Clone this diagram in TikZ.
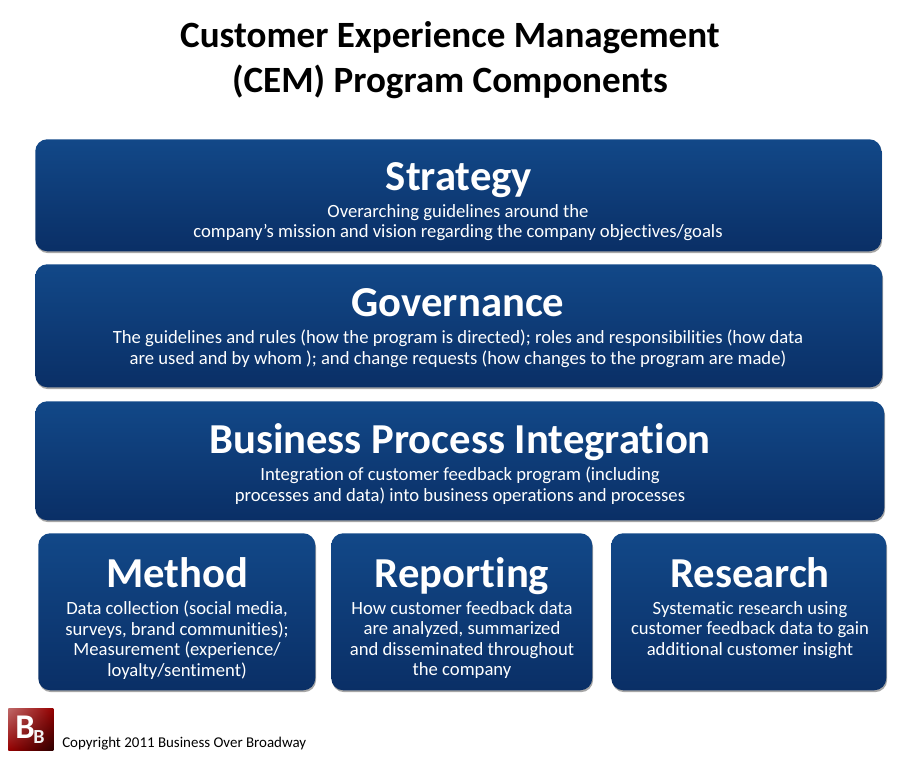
\documentclass[tikz,border=0pt]{standalone}
\usepackage{fontspec}
\setmainfont[Ligatures=NoCommon]{Carlito}
\usetikzlibrary{shadows,shadings}
\definecolor{boxtop}{RGB}{18,72,136}
\definecolor{boxbottom}{RGB}{10,47,102}
\definecolor{logopale}{RGB}{190,105,105}
\definecolor{logored}{RGB}{150,0,0}
\definecolor{logodark}{RGB}{45,0,0}
\tikzset{
  panel/.style={rounded corners=9pt,top color=boxtop,bottom color=boxbottom,draw=none,
    drop shadow={shadow xshift=0.6pt,shadow yshift=-1.4pt,opacity=.35,fill=black},
    minimum width=#1,inner sep=0pt,anchor=north west},
  heading/.style={text=white,font=\bfseries\fontsize{32}{34}\selectfont,inner sep=0pt,anchor=base},
  blurb/.style={text=white,font=\fontsize{14}{15.4}\selectfont,align=center,inner sep=0pt,anchor=north},
}
\begin{document}
\begin{tikzpicture}[x=0.75pt,y=-0.75pt]
\useasboundingbox (0,0) rectangle (916,756);
\node[text=black,font=\bfseries\fontsize{27.8}{34}\selectfont,align=center,inner sep=0pt] (title) at (450,60)
  {Customer Experience Management\\(CEM) Program Components};

% panels
\node[panel=634.5pt,minimum height=84pt] (strategy) at (35,139) {};
\node[panel=635.25pt,minimum height=92.25pt] (governance) at (35,264) {};
\node[panel=636.75pt,minimum height=89.25pt] (integration) at (35,401) {};
\node[panel=207.75pt,minimum height=117.75pt] (method) at (38,533) {};
\node[panel=195.75pt,minimum height=117.75pt] (reporting) at (331,533) {};
\node[panel=206.25pt,minimum height=117.75pt] (research) at (611,533) {};

\node[heading] (strategyhead) at (459,190) {Strategy};
\node[blurb] (strategytext) at (458,204) {Overarching guidelines around the\\company’s mission and vision regarding the company objectives/goals};

\node[heading] (governancehead) at (458,316) {Governance};
\node[blurb] (governancetext) at (458,330) {The guidelines and rules (how the program is directed); roles and responsibilities (how data\\are used and by whom ); and change requests (how changes to the program are made)};

\node[heading] (integrationhead) at (460,453) {Business Process Integration};
\node[blurb] (integrationtext) at (460,467) {Integration of customer feedback program (including\\processes and data) into business operations and processes};

\node[heading] (methodhead) at (177,587) {Method};
\node[blurb] (methodtext) at (177,601) {Data collection (social media,\\surveys, brand communities);\\Measurement (experience/\\loyalty/sentiment)};

\node[heading] (reportinghead) at (462,587) {Reporting};
\node[blurb] (reportingtext) at (462,601) {How customer feedback data\\are analyzed, summarized\\and disseminated throughout\\the company};

\node[heading] (researchhead) at (750,587) {Research};
\node[blurb] (researchtext) at (750,601) {Systematic research using\\customer feedback data to gain\\additional customer insight};

% logo
\node[inner sep=0pt,minimum width=33.75pt,minimum height=31.5pt,anchor=north west,
  upper left=logopale,upper right=logored,lower left=logored,lower right=logodark] (logo) at (8,708) {};
\node[text=white,font=\bfseries\fontsize{26}{26}\selectfont,inner sep=0pt,anchor=base west] (logoleft) at (15,738) {B};
\node[text=black!5,font=\bfseries\fontsize{15}{15}\selectfont,inner sep=0pt,anchor=base west] (logoright) at (33,743) {B};
\node[text=black,font=\fontsize{11.2}{13}\selectfont,inner sep=0pt,anchor=west] (copyright) at (62,744) {Copyright 2011 Business Over Broadway};
\end{tikzpicture}
\end{document}
